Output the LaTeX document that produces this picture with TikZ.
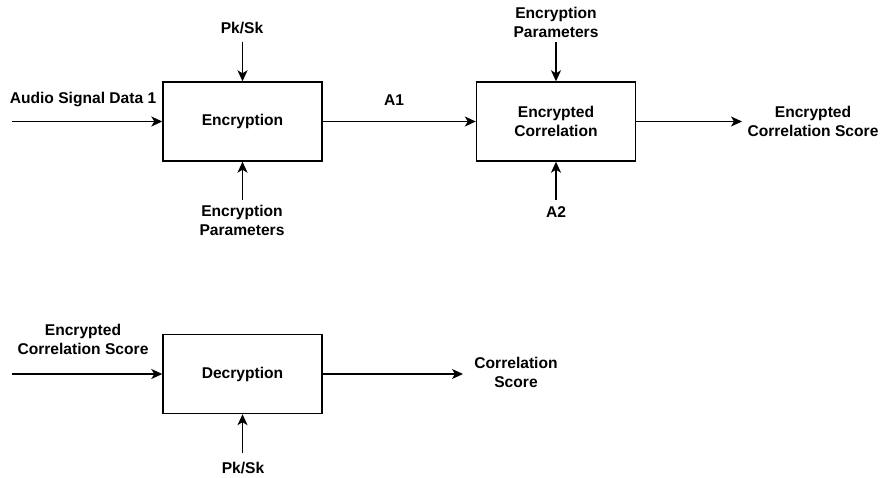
\documentclass[tikz,border=0pt]{standalone}
\usepackage{fontspec}
\setmainfont{Liberation Sans}
\usetikzlibrary{arrows.meta}
\begin{document}
\begin{tikzpicture}[x=1pt,y=-1pt,
  blk/.style={draw=black, line width=1.4pt, minimum width=159pt, minimum height=79pt, inner sep=0pt, align=center, font=\fontsize{15.6}{19}\selectfont\bfseries},
  lbl/.style={inner sep=0pt, align=center, font=\fontsize{15.6}{19}\selectfont\bfseries},
  arr/.style={line width=1.4pt, -{Stealth[length=11pt,width=10pt,inset=3pt]}},
  ]
\useasboundingbox (0,0) rectangle (886,478);
% boxes
\node[blk] (enc) at (242.5,121.5) {Encryption};
\node[blk] (ecor) at (556,121.5) {Encrypted\\Correlation};
\node[blk] (dec) at (242.5,374) {Decryption};
% labels
\node[lbl] (audio) at (83,100) {Audio Signal Data 1};
\node[lbl] (pk1) at (242,28) {Pk/Sk};
\node[lbl] (ep1) at (242,220.5) {Encryption\\Parameters};
\node[lbl] (a1) at (394,100) {A1};
\node[lbl] (ep2) at (556,22) {Encryption\\Parameters};
\node[lbl] (a2) at (556,212) {A2};
\node[lbl] (ecs) at (813,121.5) {Encrypted\\Correlation Score};
\node[lbl] (ecs2) at (83,339) {Encrypted\\Correlation Score};
\node[lbl] (cs) at (516,372.5) {Correlation\\Score};
\node[lbl] (pk2) at (243,468.5) {Pk/Sk};
% free ends
\coordinate (audioS) at (12,121.5);
\coordinate (pk1S) at (242.5,42);
\coordinate (ep1S) at (242.5,200);
\coordinate (ep2S) at (556,42);
\coordinate (a2S) at (556,200);
\coordinate (ecsE) at (742,121.5);
\coordinate (ecs2S) at (12,374);
\coordinate (csE) at (463,374);
\coordinate (pk2S) at (242.5,453);
% connectors
\draw[arr] (audioS) -- (enc.west);
\draw[arr] (pk1S) -- (enc.north);
\draw[arr] (ep1S) -- (enc.south);
\draw[arr] (enc.east) -- (ecor.west);
\draw[arr] (ep2S) -- (ecor.north);
\draw[arr] (a2S) -- (ecor.south);
\draw[arr] (ecor.east) -- (ecsE);
\draw[arr] (ecs2S) -- (dec.west);
\draw[arr] (dec.east) -- (csE);
\draw[arr] (pk2S) -- (dec.south);
\end{tikzpicture}
\end{document}
